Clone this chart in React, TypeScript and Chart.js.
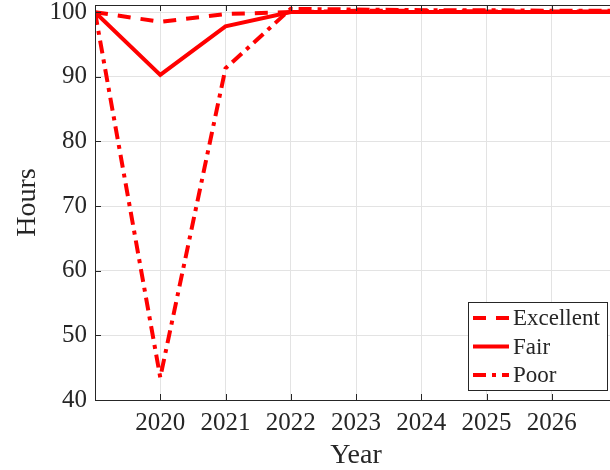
import React, { useEffect, useRef } from 'react';
import { Chart, registerables } from 'chart.js';

Chart.register(...registerables);

const years = [2019, 2020, 2021, 2022, 2023, 2024, 2025, 2026, 2027];
const excellent = [100, 98.5, 99.7, 100.0, 100.2, 100.2, 100.1, 100.1, 100.1];
const fair = [100, 90.3, 97.8, 100.0, 100.0, 100.0, 100.0, 100.0, 100.0];
const poor = [100, 43.5, 91.3, 100.5, 100.4, 100.3, 100.3, 100.2, 100.2];
const seriesLabels = ['Excellent', 'Fair', 'Poor'];
const xTicks = [2020, 2021, 2022, 2023, 2024, 2025, 2026];
const yTicks = [40, 50, 60, 70, 80, 90, 100];

const FONT = "'Liberation Serif', 'Times New Roman', serif";
const AXIS = '#262626';
const RED = '#ff0000';
const LW = 4;
const dashes: number[][] = [[13, 10], [], [13, 6, 4, 6]];

const frameLegendPlugin = {
  id: 'frameLegend',
  afterDatasetsDraw(chart: any) {
    const ctx = chart.ctx as CanvasRenderingContext2D;
    const { left, top, right, bottom } = chart.chartArea;
    const xs = chart.scales.x;
    const ys = chart.scales.y;
    ctx.save();
    ctx.strokeStyle = AXIS;
    ctx.lineWidth = 1;
    ctx.setLineDash([]);
    ctx.strokeRect(Math.round(left) + 0.5, Math.round(top) + 0.5, Math.round(right - left), Math.round(bottom - top));
    const tl = 6;
    ctx.beginPath();
    for (const v of xTicks) {
      const px = Math.round(xs.getPixelForValue(v)) + 0.5;
      ctx.moveTo(px, bottom);
      ctx.lineTo(px, bottom - tl);
      ctx.moveTo(px, top);
      ctx.lineTo(px, top + tl);
    }
    for (const v of yTicks) {
      const py = Math.round(ys.getPixelForValue(v)) + 0.5;
      ctx.moveTo(left, py);
      ctx.lineTo(left + tl, py);
      ctx.moveTo(right, py);
      ctx.lineTo(right - tl, py);
    }
    ctx.stroke();

    // legend box
    const bx = right - 149;
    const by = bottom - 98;
    const bw = 139;
    const bh = 88;
    ctx.fillStyle = '#ffffff';
    ctx.fillRect(bx, by, bw, bh);
    ctx.strokeStyle = AXIS;
    ctx.lineWidth = 1;
    ctx.strokeRect(Math.round(bx) + 0.5, Math.round(by) + 0.5, bw, bh);
    ctx.font = `23px ${FONT}`;
    ctx.textBaseline = 'middle';
    ctx.textAlign = 'left';
    chart.data.datasets.forEach((ds: any, i: number) => {
      const cy = by + 16 + i * 28.5;
      ctx.strokeStyle = RED;
      ctx.lineWidth = LW;
      ctx.setLineDash(dashes[i]);
      ctx.beginPath();
      ctx.moveTo(bx + 5, cy);
      ctx.lineTo(bx + 41, cy);
      ctx.stroke();
      ctx.setLineDash([]);
      ctx.fillStyle = AXIS;
      ctx.fillText(ds.label, bx + 45, cy + 1);
    });
    ctx.restore();
  },
};

export default function App() {
  const ref = useRef<HTMLCanvasElement>(null);
  useEffect(() => {
    if (!ref.current) return;
    const mk = (vals: number[]) => years.map((y, i) => ({ x: y, y: vals[i] }));
    const chart = new Chart(ref.current, {
      type: 'line',
      data: {
        datasets: [
          { label: seriesLabels[0], data: mk(excellent), borderColor: RED, borderWidth: LW, borderDash: dashes[0], pointRadius: 0, fill: false, tension: 0 },
          { label: seriesLabels[1], data: mk(fair), borderColor: RED, borderWidth: LW, borderDash: dashes[1], pointRadius: 0, fill: false, tension: 0 },
          { label: seriesLabels[2], data: mk(poor), borderColor: RED, borderWidth: LW, borderDash: dashes[2], pointRadius: 0, fill: false, tension: 0 },
        ],
      },
      options: {
        responsive: false,
        animation: false,
        events: [],
        layout: { padding: { top: 5, right: 3, left: 0, bottom: 0 } },
        plugins: { legend: { display: false }, tooltip: { enabled: false } },
        scales: {
          x: {
            type: 'linear',
            min: 2019,
            max: 2027,
            afterBuildTicks: (s: any) => { s.ticks = xTicks.map((v) => ({ value: v })); },
            afterFit: (s: any) => { s.height = 70; s.paddingLeft = 0; s.paddingRight = 0; s.paddingTop = 0; s.paddingBottom = 0; },
            grid: { color: '#e3e3e3', lineWidth: 1, drawTicks: false },
            border: { display: false },
            ticks: { font: { family: FONT, size: 25 }, color: AXIS, padding: 8, maxRotation: 0, autoSkip: false, callback: (v: any) => String(v) },
            title: { display: true, text: 'Year', color: AXIS, font: { family: FONT, size: 28, lineHeight: 1 }, padding: { top: 0, bottom: 0.5 } },
          },
          y: {
            type: 'linear',
            min: 40,
            max: 101.1,
            afterBuildTicks: (s: any) => { s.ticks = yTicks.map((v) => ({ value: v })); },
            afterFit: (s: any) => { s.width = 95; s.paddingLeft = 0; s.paddingRight = 0; s.paddingTop = 0; s.paddingBottom = 0; },
            grid: { color: '#e3e3e3', lineWidth: 1, drawTicks: false },
            border: { display: false },
            ticks: { font: { family: FONT, size: 25 }, color: AXIS, padding: 8, callback: (v: any) => String(v) },
            title: { display: true, text: 'Hours', color: AXIS, font: { family: FONT, size: 28, lineHeight: 1 }, padding: { top: 13.5, bottom: 0 } },
          },
        },
      },
      plugins: [frameLegendPlugin],
    });
    return () => chart.destroy();
  }, []);
  return (
    <div style={{ position: 'fixed', left: 0, top: 0, width: 610, height: 470, overflow: 'hidden', background: '#fff' }}>
      <canvas ref={ref} width={620} height={470} style={{ width: 620, height: 470, display: 'block' }} />
    </div>
  );
}
